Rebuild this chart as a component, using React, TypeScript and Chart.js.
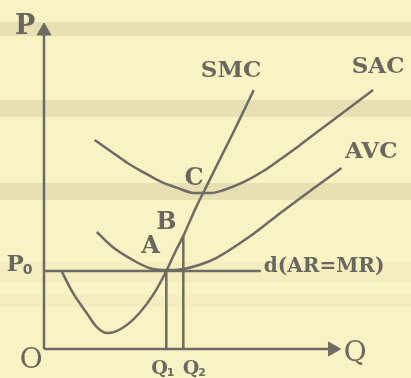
import React, { useEffect, useRef } from "react";
import { Chart, registerables } from "chart.js";

Chart.register(...registerables);

// Curve data (Q, P) in chart units
const smcQ = [6, 9.7, 14.3, 17.7, 21.3, 26.3, 32, 37, 41, 44.3, 46.7, 51, 54.7, 59.7, 64.7, 70.3];
const smcP = [25.7, 18.7, 12, 7.3, 5.3, 7, 12, 18.7, 26, 33, 37.7, 47.3, 54.7, 64.7, 74.7, 86.3];
const sacQ = [17, 22.7, 28, 33.7, 39.3, 44.7, 50.3, 56, 60.3, 67, 73.7, 79.3, 85.3, 92, 101.3, 110.3];
const sacP = [69.7, 65.7, 62, 58.7, 55.7, 53.7, 52, 52, 53, 55.7, 59.4, 63.3, 67.6, 72.7, 79.6, 86.3];
const avcQ = [17.7, 23, 29.7, 35.3, 41, 46.7, 52, 57.7, 68.7, 79.7, 91, 99.7];
const avcP = [39, 34, 29.7, 27, 26.3, 26.7, 28, 30.3, 37.3, 45.7, 54, 60.3];

const P0 = 26;
const Q1 = 41;
const Q2 = 46.7;
const B_P = 37.7;
const dLineEnd = 72.7;
const qAxisEnd = 96.7;
const pAxisEnd = 106;

const LINE = "#6d6b64";
const TEXT = "#696760";

const toPts = (xs: number[], ys: number[]) => xs.map((x, i) => ({ x, y: ys[i] }));

type Lbl = { t: string; x: number; y: number; size: number; sub?: string; align?: CanvasTextAlign; bold?: boolean };
const labels: Lbl[] = [
  { t: "P", x: -6.3, y: 107.3, size: 27, bold: true },
  { t: "P", x: -9.7, y: 28, size: 23, sub: "0", bold: true },
  { t: "O", x: -4.3, y: -4, size: 28 },
  { t: "Q", x: 104.3, y: -1.7, size: 28 },
  { t: "Q", x: 38.7, y: -6.7, size: 19, sub: "1", bold: true },
  { t: "Q", x: 49.3, y: -6.7, size: 19, sub: "2", bold: true },
  { t: "SMC", x: 62.7, y: 92.7, size: 23, bold: true },
  { t: "SAC", x: 112, y: 94, size: 23, bold: true },
  { t: "AVC", x: 109.7, y: 65.7, size: 23, bold: true },
  { t: "C", x: 50.3, y: 56.7, size: 24, bold: true },
  { t: "B", x: 41, y: 42, size: 24, bold: true },
  { t: "A", x: 35.7, y: 34, size: 24, bold: true },
  { t: "d(AR=MR)", x: 73.7, y: 27.3, size: 20, align: "left", bold: true },
];

const bgPlugin = {
  id: "bg",
  beforeDraw(chart: any) {
    const { ctx, width, height } = chart;
    ctx.save();
    ctx.fillStyle = "#f8f3c3";
    ctx.fillRect(0, 0, width, height);
    ctx.fillStyle = "#e8dfb2";
    [[22, 14], [100, 17], [183, 17]].forEach(([y, h]) => ctx.fillRect(0, y, width, h));
    ctx.fillStyle = "rgba(225,215,170,0.18)";
    [[262, 20], [295, 12]].forEach(([y, h]) => ctx.fillRect(0, y, width, h));
    ctx.restore();
  },
};

const textPlugin = {
  id: "txt",
  afterDatasetsDraw(chart: any) {
    const { ctx, scales } = chart;
    ctx.save();
    ctx.fillStyle = TEXT;
    ctx.textBaseline = "middle";
    labels.forEach((l) => {
      const px = scales.x.getPixelForValue(l.x);
      const py = scales.y.getPixelForValue(l.y);
      ctx.font = `${l.bold ? "bold " : ""}${l.size}px "DejaVu Serif"`;
      if (l.sub) {
        const w = ctx.measureText(l.t).width;
        ctx.textAlign = "left";
        ctx.fillText(l.t, px - w / 2, py);
        ctx.font = `bold ${Math.round(l.size * 0.6)}px "DejaVu Sans"`;
        ctx.fillText(l.sub, px + w / 2 - 1, py + l.size * 0.22);
      } else {
        ctx.textAlign = l.align || "center";
        ctx.fillText(l.t, px, py);
      }
    });
    ctx.restore();
  },
};

export default function App() {
  const ref = useRef<HTMLCanvasElement>(null);
  useEffect(() => {
    document.body.style.margin = "0";
    const base = { borderColor: LINE, borderWidth: 2.5, pointRadius: 0, showLine: true, fill: false, clip: false as any };
    const chart = new Chart(ref.current!, {
      type: "scatter",
      data: {
        datasets: [
          { ...base, label: "SMC", data: toPts(smcQ, smcP), tension: 0.35, cubicInterpolationMode: "monotone" },
          { ...base, label: "SAC", data: toPts(sacQ, sacP), tension: 0.35, cubicInterpolationMode: "monotone" },
          { ...base, label: "AVC", data: toPts(avcQ, avcP), tension: 0.35, cubicInterpolationMode: "monotone" },
          { ...base, label: "d", data: [{ x: 0, y: P0 }, { x: dLineEnd, y: P0 }], tension: 0 },
          { ...base, label: "Q1", data: [{ x: Q1, y: 0 }, { x: Q1, y: P0 }], tension: 0 },
          { ...base, label: "Q2", data: [{ x: Q2, y: 0 }, { x: Q2, y: B_P }], tension: 0 },
          { ...base, label: "Paxis", data: [{ x: 0, y: 0 }, { x: 0, y: pAxisEnd }], tension: 0 },
          { ...base, label: "Qaxis", data: [{ x: 0, y: 0 }, { x: qAxisEnd, y: 0 }], tension: 0 },
          {
            label: "arrows",
            data: [{ x: 0, y: pAxisEnd }, { x: qAxisEnd, y: 0 }],
            showLine: false,
            pointStyle: "triangle",
            pointRadius: 8,
            pointRotation: [0, 90] as any,
            backgroundColor: LINE,
            borderColor: LINE,
            borderWidth: 1,
            clip: false as any,
          },
        ],
      },
      options: {
        animation: false,
        responsive: false,
        devicePixelRatio: 1,
        layout: { padding: { left: 44, right: 7, top: 25, bottom: 29 } },
        scales: {
          x: { type: "linear", min: 0, max: 120, display: false },
          y: { type: "linear", min: 0, max: 108, display: false },
        },
        plugins: { legend: { display: false }, tooltip: { enabled: false } },
      },
      plugins: [bgPlugin, textPlugin],
    });
    return () => chart.destroy();
  }, []);
  return <canvas ref={ref} width={411} height={378} style={{ display: "block" }} />;
}
